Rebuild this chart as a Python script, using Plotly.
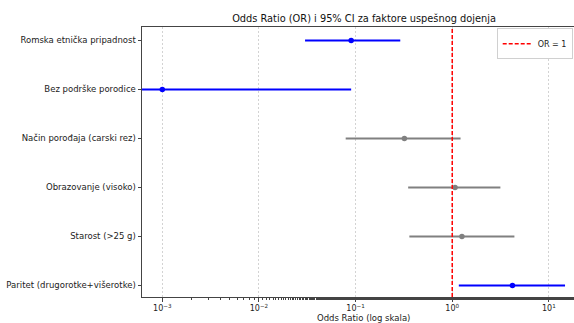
import plotly.graph_objects as go

factors = ["Paritet (drugorotke+višerotke)", "Starost (>25 g)", "Obrazovanje (visoko)",
           "Način porođaja (carski rez)", "Bez podrške porodice", "Romska etnička pripadnost"]
odds_ratio = [4.2, 1.26, 1.07, 0.32, 0.001, 0.09]
ci_low = [1.17, 0.36, 0.35, 0.079, 0.00001, 0.03]
ci_high = [14.7, 4.4, 3.15, 1.22, 0.09, 0.29]
significant = [True, False, False, False, True, True]
tick_vals = [0.001, 0.01, 0.1, 1, 10]
tick_text = ["10<sup>−3</sup>", "10<sup>−2</sup>", "10<sup>−1</sup>", "10<sup>0</sup>", "10<sup>1</sup>"]

fig = go.Figure()
for i, name in enumerate(factors):
    col = "#0000ff" if significant[i] else "#808080"
    fig.add_trace(go.Scatter(
        x=[odds_ratio[i]], y=[i], mode="markers",
        marker=dict(color=col, size=5.5),
        error_x=dict(type="data", symmetric=False,
                     array=[ci_high[i] - odds_ratio[i]],
                     arrayminus=[odds_ratio[i] - ci_low[i]],
                     color=col, thickness=2, width=0),
        showlegend=False, hoverinfo="skip"))

fig.add_trace(go.Scatter(x=[1, 1], y=[-0.235, 5.275], mode="lines",
                         line=dict(color="red", dash="4px,2px", width=1.5),
                         name="OR = 1", showlegend=True))

fig.update_layout(
    width=574, height=323,
    margin=dict(l=142, r=0, t=27, b=26, autoexpand=False),
    paper_bgcolor="white", plot_bgcolor="white",
    font=dict(family="DejaVu Sans", size=8.5, color="#222"),
    title=dict(text="Odds Ratio (OR) i 95% CI za faktore uspešnog dojenja",
               x=0.514, xref="paper", xanchor="center",
               y=1 - 19 / 323, yanchor="middle",
               font=dict(size=9.8, color="#111")),
    legend=dict(x=0.997, y=0.995, xanchor="right", yanchor="top",
                bgcolor="white", bordercolor="#d0d0d0", borderwidth=1,
                font=dict(size=8), itemwidth=30),
    xaxis=dict(type="log", range=[-3.21, 1.26], automargin=False,
               tickvals=tick_vals, ticktext=tick_text,
               showgrid=True, gridcolor="#d3d3d3", griddash="2px,2px", gridwidth=0.8,
               showline=True, linecolor="#444", linewidth=1, mirror=True,
               ticks="outside", ticklen=3.5, tickcolor="#444",
               minor=dict(ticks="outside", ticklen=2, tickcolor="#444", showgrid=False),
               zeroline=False, tickfont=dict(size=8)),
    yaxis=dict(range=[-0.235, 5.275], tickvals=list(range(len(factors))),
               ticktext=factors, showgrid=False, zeroline=False, automargin=False,
               showline=True, linecolor="#444", linewidth=1, mirror=False,
               ticks="outside", ticklen=3.5, tickcolor="#444"),
    annotations=[dict(text="Odds Ratio (log skala)", xref="paper", yref="paper",
                      x=0.512, y=-0.078, xanchor="center", yanchor="middle",
                      showarrow=False, font=dict(size=8.5, color="#222"))],
)

fig.write_html("out.html")
